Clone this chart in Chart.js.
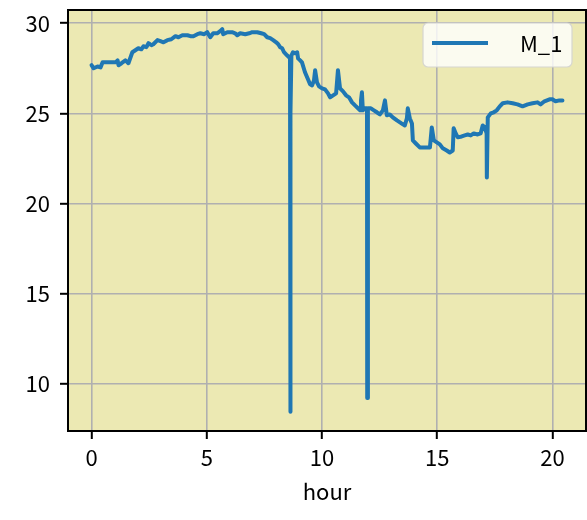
<!DOCTYPE html>
<html>
<head>
<meta charset="utf-8">
<script src="https://cdn.jsdelivr.net/npm/chart.js@4"></script>
<style>
  html, body { margin: 0; padding: 0; background: #fff; }
  #wrap { width: 587px; height: 520px; }
</style>
</head>
<body>
<div id="wrap"><canvas id="chart" width="587" height="520"></canvas></div>
<script>
const hours = [0.00, 0.09, 0.26, 0.39, 0.48, 1.04, 1.13, 1.17, 1.30, 1.47, 1.60, 1.77, 1.90, 2.03, 2.16, 2.25, 2.38, 2.47, 2.60, 2.68,
  2.86, 2.99, 3.12, 3.29, 3.46, 3.64, 3.77, 3.94, 4.16, 4.29, 4.42, 4.59, 4.72, 4.89, 5.02, 5.15, 5.28, 5.45, 5.58, 5.67,
  5.71, 5.89, 6.10, 6.23, 6.32, 6.45, 6.67, 6.84, 6.97, 7.19, 7.36, 7.49, 7.62, 7.75, 7.88, 8.01, 8.10, 8.18, 8.27, 8.35,
  8.48, 8.57, 8.61, 8.62, 8.64, 8.67, 8.74, 8.83, 8.92, 8.96, 9.05, 9.13, 9.26, 9.39, 9.48, 9.57, 9.65, 9.70, 9.78, 9.87,
  10.00, 10.13, 10.26, 10.35, 10.48, 10.61, 10.69, 10.78, 10.91, 11.04, 11.17, 11.30, 11.43, 11.56, 11.65, 11.69, 11.73, 11.77, 11.86, 11.95,
  11.96, 11.99, 12.12, 12.25, 12.38, 12.51, 12.64, 12.73, 12.81, 12.94, 13.07, 13.25, 13.38, 13.51, 13.59, 13.68, 13.72, 13.81, 13.90, 13.94,
  14.07, 14.24, 14.46, 14.68, 14.76, 14.85, 14.98, 15.11, 15.24, 15.41, 15.54, 15.67, 15.71, 15.80, 15.89, 16.06, 16.19, 16.32, 16.45, 16.58,
  16.75, 16.88, 16.97, 17.06, 17.14, 17.15, 17.19, 17.32, 17.45, 17.58, 17.71, 17.84, 18.05, 18.27, 18.48, 18.70, 18.92, 19.13, 19.35, 19.48,
  19.65, 19.87, 19.99, 20.13, 20.30, 20.43];
const m1 = [27.67, 27.50, 27.60, 27.55, 27.83, 27.83, 27.94, 27.67, 27.78, 27.94, 27.78, 28.39, 28.50, 28.61, 28.55, 28.72, 28.67, 28.89, 28.78, 28.83,
  29.06, 29.00, 28.94, 29.06, 29.11, 29.28, 29.22, 29.33, 29.33, 29.28, 29.28, 29.39, 29.44, 29.39, 29.50, 29.22, 29.44, 29.44, 29.56, 29.67,
  29.39, 29.50, 29.50, 29.44, 29.33, 29.44, 29.39, 29.44, 29.50, 29.50, 29.44, 29.39, 29.22, 29.17, 29.06, 28.94, 28.83, 28.67, 28.61, 28.39,
  28.22, 28.11, 28.05, 8.45, 25.05, 28.20, 28.39, 28.33, 28.39, 28.05, 27.94, 27.83, 27.28, 26.89, 26.61, 26.55, 26.83, 27.39, 26.72, 26.50,
  26.39, 26.33, 26.11, 25.89, 26.00, 26.11, 27.39, 26.39, 26.22, 26.00, 25.89, 25.61, 25.44, 25.28, 25.17, 25.72, 26.17, 25.17, 25.28, 25.28,
  9.22, 25.28, 25.28, 25.17, 25.06, 24.94, 25.17, 25.72, 24.89, 24.94, 24.78, 24.61, 24.50, 24.39, 24.33, 24.72, 25.28, 24.72, 24.44, 23.50,
  23.33, 23.11, 23.11, 23.11, 24.22, 23.50, 23.39, 23.28, 23.06, 22.94, 22.83, 22.94, 24.17, 23.89, 23.67, 23.72, 23.78, 23.83, 23.78, 23.89,
  23.83, 23.89, 24.33, 24.22, 23.89, 21.45, 24.78, 25.00, 25.06, 25.17, 25.39, 25.56, 25.61, 25.56, 25.50, 25.39, 25.50, 25.56, 25.61, 25.50,
  25.67, 25.78, 25.78, 25.67, 25.72, 25.72];
const xTicks = [0, 5, 10, 15, 20];
const yTicks = [10, 15, 20, 25, 30];
const seriesName = 'M_1';
const xLabel = 'hour';

// matplotlib-like 5% margins
function pad(arr) {
  const lo = Math.min(...arr), hi = Math.max(...arr), m = (hi - lo) * 0.05;
  return [lo - m, hi + m];
}
const [xmin, xmax] = pad(hours);
const [ymin, ymax] = pad(m1);

const points = hours.map((h, i) => ({ x: h, y: m1[i] }));

Chart.defaults.font.family = "'Noto Sans CJK JP', 'Noto Sans', sans-serif";
Chart.defaults.font.size = 22;
Chart.defaults.color = '#000';

const mplLook = {
  id: 'mplLook',
  beforeDraw(chart) {
    const { ctx, chartArea: a } = chart;
    ctx.save();
    ctx.fillStyle = '#ECE9B3';
    ctx.fillRect(a.left, a.top, a.right - a.left, a.bottom - a.top);
    ctx.restore();
  },
  afterDraw(chart) {
    const { ctx, chartArea: a } = chart;
    ctx.save();
    ctx.strokeStyle = '#000';
    ctx.lineWidth = 2;
    ctx.strokeRect(a.left, a.top, a.right - a.left, a.bottom - a.top);

    // legend box
    const bx = 423, by = 23, bw = 149, bh = 44, r = 5;
    ctx.beginPath();
    ctx.roundRect(bx, by, bw, bh, r);
    ctx.fillStyle = 'rgba(255,255,255,0.8)';
    ctx.fill();
    ctx.strokeStyle = '#d6d6d0';
    ctx.lineWidth = 1.2;
    ctx.stroke();
    ctx.beginPath();
    ctx.moveTo(432, 43);
    ctx.lineTo(488, 43);
    ctx.strokeStyle = '#1f77b4';
    ctx.lineWidth = 4;
    ctx.stroke();
    ctx.fillStyle = '#000';
    ctx.textAlign = 'left';
    ctx.textBaseline = 'middle';
    ctx.font = "22px 'Noto Sans CJK JP', sans-serif";
    ctx.fillText(seriesName, 520, 44);
    ctx.restore();
  }
};

new Chart(document.getElementById('chart').getContext('2d'), {
  type: 'line',
  data: {
    datasets: [{
      label: seriesName,
      data: points,
      borderColor: '#1f77b4',
      borderWidth: 4,
      pointRadius: 0,
      tension: 0,
      fill: false,
      borderCapStyle: 'round',
      borderJoinStyle: 'round'
    }]
  },
  options: {
    responsive: false,
    animation: false,
    layout: { padding: { top: 10, right: 1, left: 0, bottom: 0 } },
    plugins: {
      legend: { display: false },
      tooltip: { enabled: false }
    },
    scales: {
      x: {
        type: 'linear',
        min: xmin,
        max: xmax,
        afterBuildTicks: s => { s.ticks = xTicks.map(v => ({ value: v })); },
        afterFit: s => { s.height = 89; s.paddingLeft = 0; s.paddingRight = 0; },
        ticks: { includeBounds: false, padding: 5, maxRotation: 0 },
        grid: { color: '#b0b0b0', lineWidth: 1.6, tickColor: '#000', tickLength: 8, tickWidth: 2 },
        border: { display: false },
        title: { display: true, text: xLabel, padding: { top: 2, bottom: 15 } }
      },
      y: {
        min: ymin,
        max: ymax,
        afterBuildTicks: s => { s.ticks = yTicks.map(v => ({ value: v })); },
        afterFit: s => { s.width = 68; s.paddingTop = 0; s.paddingBottom = 0; },
        ticks: { includeBounds: false, padding: 10 },
        grid: { color: '#b0b0b0', lineWidth: 1.6, tickColor: '#000', tickLength: 8, tickWidth: 2 },
        border: { display: false }
      }
    }
  },
  plugins: [mplLook]
});
</script>
</body>
</html>
